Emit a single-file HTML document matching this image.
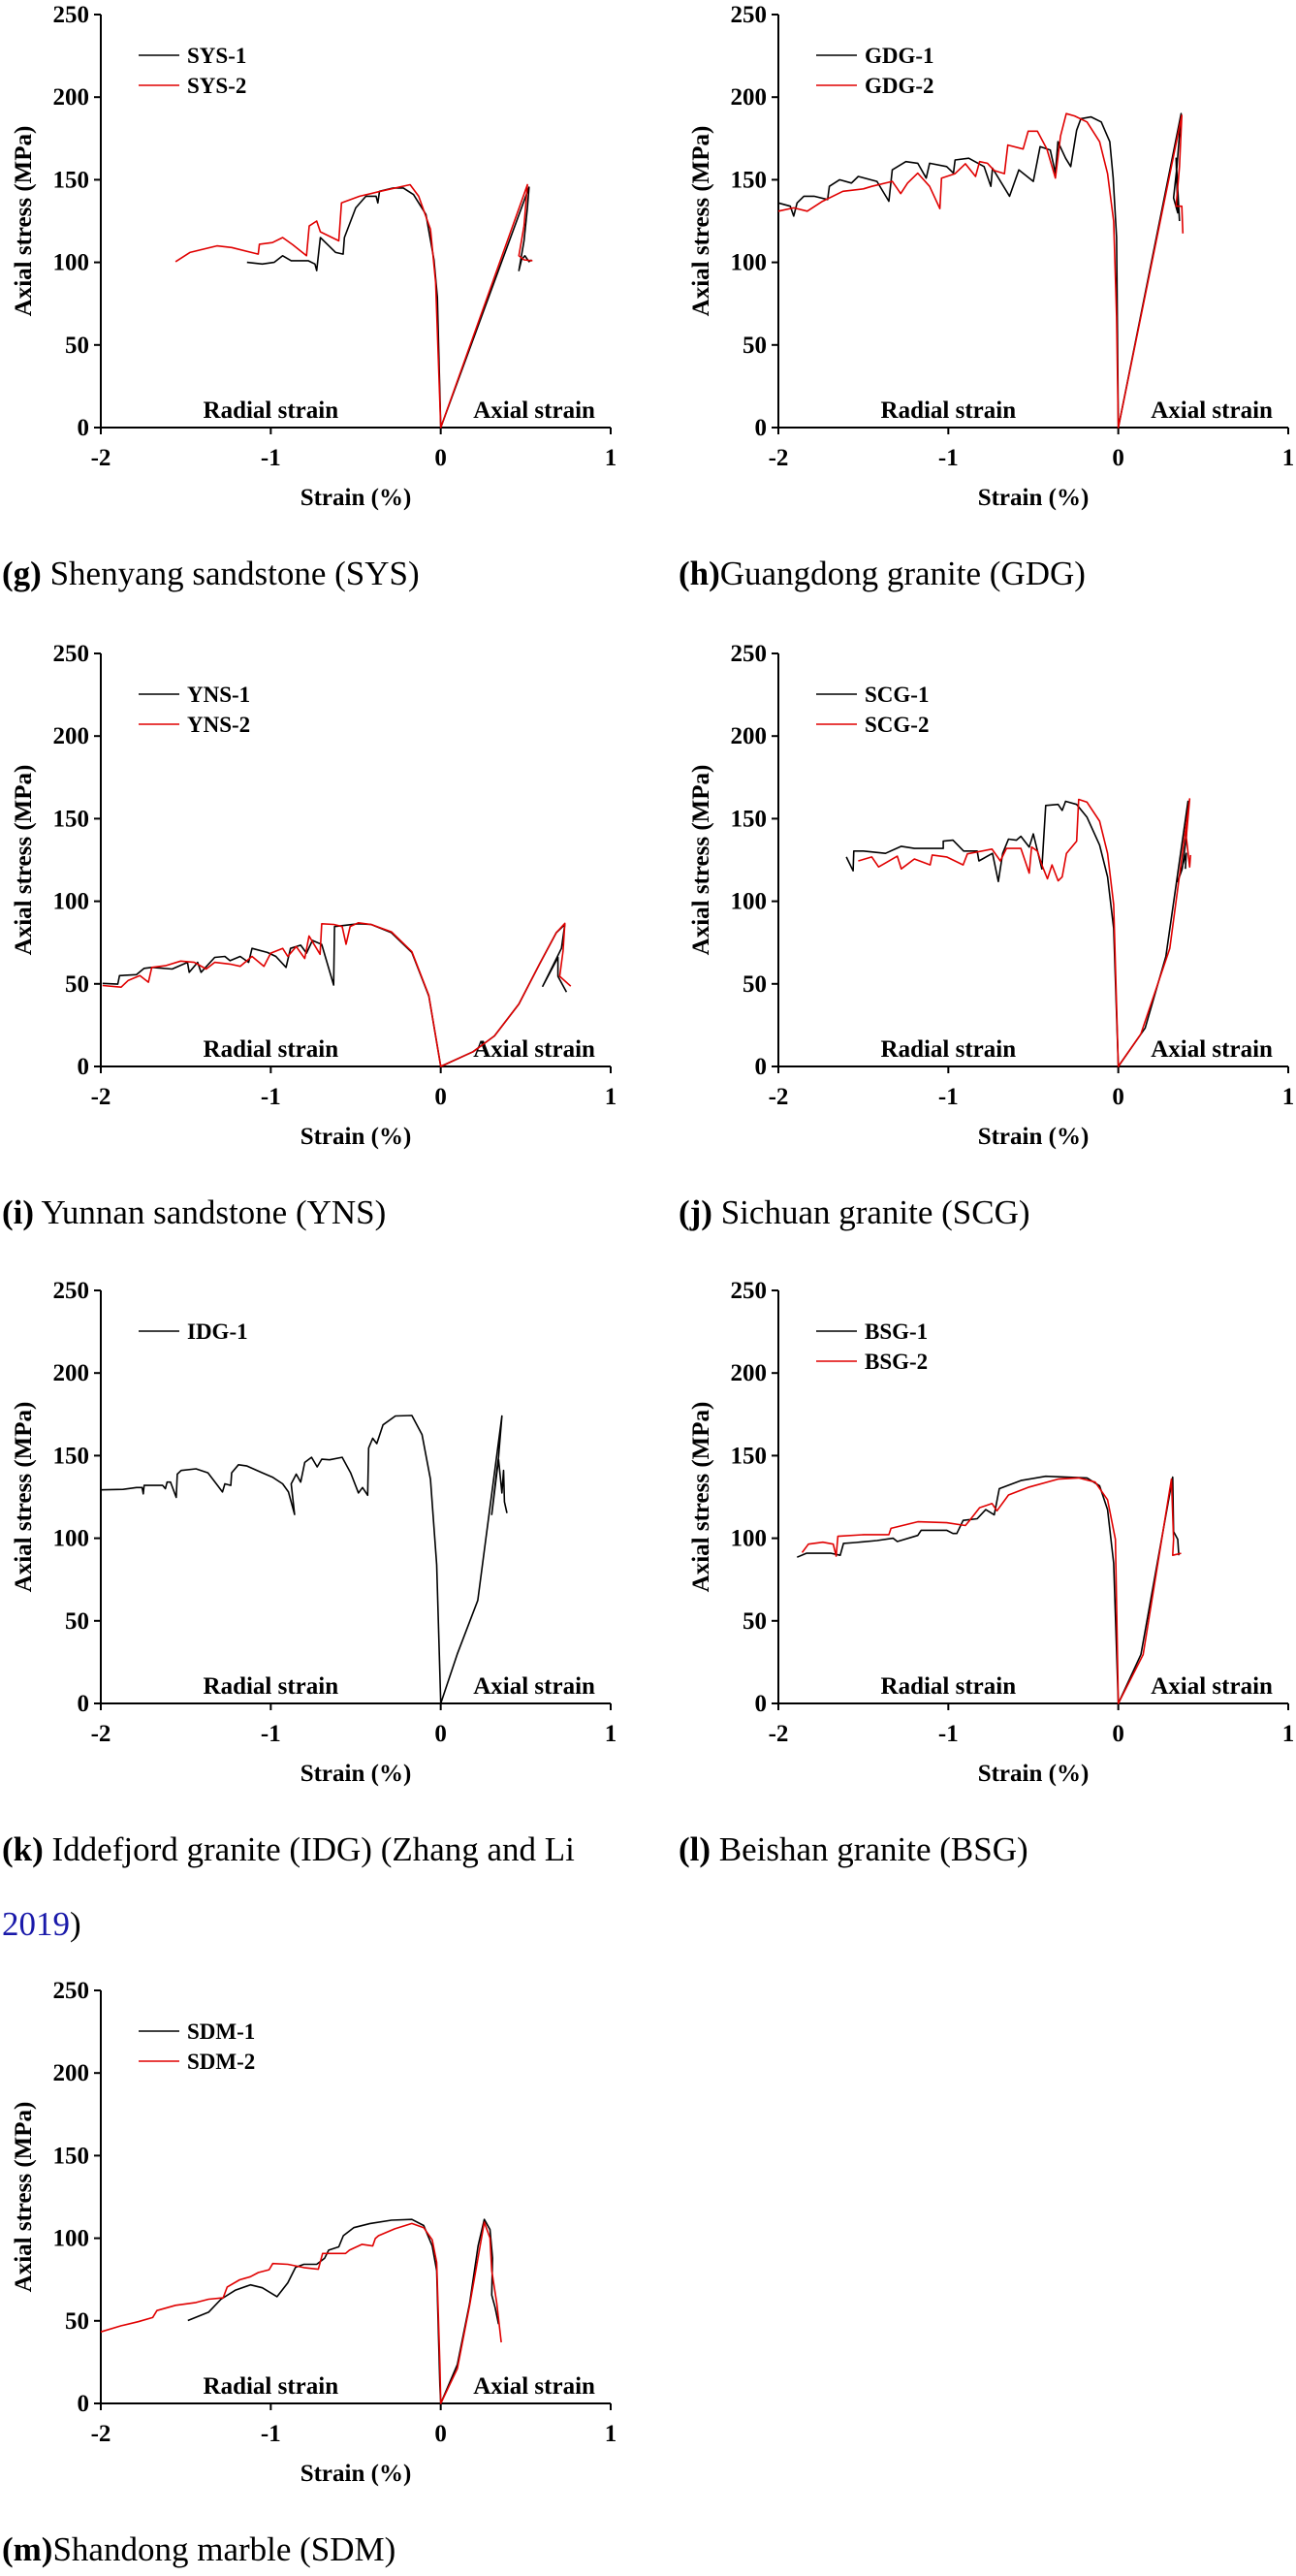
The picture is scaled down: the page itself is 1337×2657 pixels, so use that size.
<!DOCTYPE html>
<html><head><meta charset="utf-8">
<style>
html,body{margin:0;padding:0;background:#fff;}
svg{display:block;}
text{font-family:"Liberation Serif","Times New Roman",serif;}
</style></head>
<body>
<svg id="fig" width="1337" height="2657" viewBox="0 0 1337 2657" xmlns="http://www.w3.org/2000/svg"></svg>
<script>
// ---- data (strain %, axial stress MPa) ----
const xTicks = [-2, -1, 0, 1];
const yTicks = [0, 50, 100, 150, 200, 250];

const SYS1 = [[-1.14,100],[-1.05,99],[-0.98,100],[-0.93,104],[-0.88,101],[-0.78,101],[-0.74,99],[-0.73,95],[-0.72,104],[-0.708,115],[-0.618,106],[-0.574,105],[-0.567,115],[-0.5,133],[-0.44,140],[-0.38,140],[-0.37,136],[-0.36,143],[-0.28,145],[-0.22,145],[-0.16,141],[-0.087,129],[-0.04,101.5],[-0.02,79],[0,0],[0.52,145.5],[0.51,133],[0.49,113],[0.46,95],[0.475,101.5],[0.495,104],[0.52,100.4],[0.535,101.5]];
const SYS2 = [[-1.56,100.4],[-1.476,106],[-1.317,110],[-1.23,109],[-1.074,105],[-1.067,111],[-0.99,112],[-0.93,115],[-0.87,110.6],[-0.79,104],[-0.774,122],[-0.73,125],[-0.708,118.5],[-0.6,113],[-0.584,136],[-0.477,140],[-0.355,143],[-0.18,147],[-0.13,140],[-0.06,120],[-0.03,88],[0,0],[0.51,147],[0.49,122],[0.46,104],[0.49,101.5],[0.54,101]];

const GDG1 = [[-2,136],[-1.93,134],[-1.91,128],[-1.89,136],[-1.85,140],[-1.79,140],[-1.71,138],[-1.70,146],[-1.64,150],[-1.57,148],[-1.53,152],[-1.42,149],[-1.35,137],[-1.33,156],[-1.25,161],[-1.18,160],[-1.13,151],[-1.11,160],[-1.01,158],[-0.97,154],[-0.96,162],[-0.88,163],[-0.79,158],[-0.75,146],[-0.74,157],[-0.64,140],[-0.585,156],[-0.5,149],[-0.46,170],[-0.4,168],[-0.37,154],[-0.355,173],[-0.31,163],[-0.28,158],[-0.245,180],[-0.22,187],[-0.16,188],[-0.1,185],[-0.05,173],[-0.03,151],[-0.01,115],[0,0],[0.37,190],[0.345,158],[0.325,139],[0.35,130],[0.34,163],[0.36,125]];
const GDG2 = [[-2,131],[-1.91,133],[-1.83,131],[-1.74,137],[-1.62,143],[-1.5,144.5],[-1.45,146],[-1.33,149],[-1.28,141.6],[-1.24,148],[-1.18,154],[-1.11,146],[-1.05,132.5],[-1.04,151],[-0.96,153.7],[-0.9,159.7],[-0.84,152],[-0.816,161],[-0.77,160],[-0.73,155.6],[-0.67,153.7],[-0.65,171],[-0.56,168.6],[-0.53,179.4],[-0.476,179.4],[-0.42,168.6],[-0.37,151],[-0.34,176.5],[-0.306,190],[-0.257,188.6],[-0.184,185],[-0.11,173],[-0.063,153.7],[-0.027,124.8],[-0.01,67],[0,0],[0.374,189],[0.36,158],[0.34,134],[0.374,134],[0.38,117.5]];

const YNS1 = [[-1.99,50.3],[-1.9,49.8],[-1.89,55],[-1.79,55.6],[-1.745,59.4],[-1.7,60],[-1.58,59],[-1.49,63],[-1.48,57],[-1.43,63],[-1.41,57],[-1.33,66],[-1.27,66.6],[-1.24,64],[-1.18,66.6],[-1.13,63],[-1.11,71.5],[-1.02,69],[-0.97,66.6],[-0.91,60],[-0.884,71.5],[-0.824,73.4],[-0.79,68.6],[-0.755,76.3],[-0.7,73.9],[-0.63,49.3],[-0.625,84.7],[-0.485,86.4],[-0.41,86],[-0.29,81],[-0.17,69],[-0.07,42.6],[0,0],[0.19,8.9],[0.316,18.5],[0.46,37.8],[0.58,61.8],[0.68,81],[0.73,86],[0.71,71.5],[0.6,48.6],[0.69,66],[0.69,54.6],[0.74,45]];
const YNS2 = [[-1.99,49],[-1.88,48],[-1.84,52],[-1.77,55],[-1.72,51],[-1.7,60],[-1.62,61],[-1.53,63.8],[-1.45,63],[-1.38,59],[-1.33,63],[-1.24,62],[-1.18,60.6],[-1.11,66.6],[-1.04,60.6],[-1.0,68.6],[-0.93,71.5],[-0.9,66.6],[-0.85,72.6],[-0.8,65.4],[-0.775,79],[-0.71,67.9],[-0.7,86.4],[-0.63,86],[-0.58,84.7],[-0.557,74],[-0.533,84.7],[-0.485,87],[-0.41,86],[-0.29,81.5],[-0.17,69.5],[-0.07,43],[0,0],[0.19,8.9],[0.316,18.5],[0.46,37.8],[0.58,61.8],[0.68,81],[0.73,86.6],[0.72,70],[0.7,54.6],[0.765,48.6]];

const SCG1 = [[-1.6,126.8],[-1.56,118.4],[-1.556,130.4],[-1.5,130.4],[-1.37,129],[-1.277,133.3],[-1.2,132],[-1.03,132],[-1.03,136.4],[-0.973,137],[-0.91,130.4],[-0.83,130.4],[-0.82,124.4],[-0.74,129],[-0.706,112],[-0.68,129],[-0.646,137.6],[-0.6,137],[-0.573,139.3],[-0.524,132.8],[-0.5,140.8],[-0.45,119.6],[-0.427,158],[-0.354,158.6],[-0.33,155],[-0.31,160.5],[-0.245,158.6],[-0.184,150.9],[-0.11,134],[-0.063,114.8],[-0.027,83.5],[0,0],[0.158,23.3],[0.28,66.7],[0.41,160.5],[0.40,138.8],[0.376,119.6],[0.35,112],[0.4,129],[0.395,119.6]];
const SCG2 = [[-1.53,124.4],[-1.45,126.8],[-1.41,120.8],[-1.3,127.3],[-1.277,119.6],[-1.2,125.6],[-1.107,122],[-1.095,128],[-1.01,126.8],[-0.913,122],[-0.888,128.7],[-0.743,131.6],[-0.694,124.4],[-0.658,132],[-0.573,132],[-0.524,117],[-0.51,132.8],[-0.476,130.4],[-0.45,122],[-0.417,113.6],[-0.39,122],[-0.354,112.4],[-0.33,114.8],[-0.305,129],[-0.245,136.4],[-0.233,161.7],[-0.184,160],[-0.11,148.5],[-0.063,129],[-0.027,98],[0,0],[0.133,19.7],[0.303,71.5],[0.42,162],[0.4,138.8],[0.42,120.8],[0.425,128]];

const IDG1 = [[-2,129.3],[-1.87,129.6],[-1.79,130.7],[-1.757,130.7],[-1.75,126.9],[-1.745,132],[-1.636,132],[-1.62,130],[-1.61,134],[-1.59,134],[-1.556,124.7],[-1.55,138.8],[-1.527,141],[-1.44,142],[-1.37,139.6],[-1.31,131.5],[-1.284,128],[-1.27,132.9],[-1.235,132],[-1.23,139.6],[-1.19,144.5],[-1.14,143.7],[-1.05,139.6],[-0.99,137],[-0.93,132.9],[-0.896,128],[-0.86,114.4],[-0.88,132.9],[-0.85,138.8],[-0.824,134],[-0.8,145.9],[-0.76,149],[-0.727,143.2],[-0.7,147.8],[-0.654,147.5],[-0.58,149],[-0.53,139.6],[-0.484,127.4],[-0.46,130.7],[-0.43,126],[-0.424,154.6],[-0.4,160.5],[-0.376,157.3],[-0.34,168.6],[-0.267,174],[-0.17,174.3],[-0.11,162.7],[-0.06,135.6],[-0.024,84],[0,0],[0.097,29.8],[0.218,62.4],[0.36,174],[0.34,149],[0.33,141],[0.30,114.4],[0.34,147.8],[0.36,127.4],[0.37,141],[0.375,122],[0.39,115.2]];

const BSG1 = [[-1.89,88.5],[-1.835,90.9],[-1.69,90.9],[-1.636,89.7],[-1.617,96.9],[-1.544,97.4],[-1.42,98.6],[-1.325,100],[-1.3,98],[-1.18,101.7],[-1.16,104.8],[-1.01,104.8],[-0.973,102.9],[-0.95,102.9],[-0.913,110.8],[-0.83,111.8],[-0.78,117.3],[-0.73,114.2],[-0.7,130],[-0.573,134.9],[-0.427,137.5],[-0.184,136.5],[-0.11,131.7],[-0.063,117.3],[-0.027,84.9],[0,0],[0.133,29.6],[0.32,137],[0.325,104],[0.35,99.3],[0.356,89.7]];
const BSG2 = [[-1.86,91.3],[-1.823,96.4],[-1.738,97.6],[-1.677,96.4],[-1.66,89.2],[-1.65,101.2],[-1.495,102.2],[-1.35,102.2],[-1.337,106],[-1.18,110],[-1.01,109.4],[-0.9,107.7],[-0.87,111.3],[-0.816,118.5],[-0.743,121],[-0.714,116.6],[-0.646,126.2],[-0.524,131],[-0.354,135.8],[-0.233,136.5],[-0.136,134],[-0.063,123.3],[-0.017,99.3],[0,0],[0.146,29.6],[0.313,135.8],[0.325,99.3],[0.32,89.7],[0.37,90.9]];

const SDM1 = [[-1.488,50.2],[-1.366,55.2],[-1.293,63.1],[-1.207,68.6],[-1.12,71.8],[-1.05,70],[-0.963,64.6],[-0.9,73],[-0.854,82.4],[-0.805,84.2],[-0.73,84.2],[-0.683,87.9],[-0.659,92.8],[-0.6,94.8],[-0.573,101.5],[-0.512,106.4],[-0.415,108.9],[-0.29,110.9],[-0.17,111.4],[-0.1,107.7],[-0.05,95.3],[-0.024,80.4],[-0.005,11],[0,0],[0.098,23.5],[0.17,60.6],[0.22,95.3],[0.256,111.4],[0.29,105.2],[0.305,88],[0.3,65.6],[0.32,58],[0.34,48]];
const SDM2 = [[-2,43.3],[-1.88,47],[-1.78,49.5],[-1.695,52],[-1.67,56.2],[-1.56,59.4],[-1.44,61.1],[-1.366,63.1],[-1.28,63.9],[-1.256,70.5],[-1.183,74.8],[-1.12,76.7],[-1.073,79.2],[-1.01,80.9],[-0.988,84.7],[-0.9,84.2],[-0.805,82.2],[-0.72,81.2],[-0.695,90.8],[-0.56,90.8],[-0.537,92.8],[-0.463,96.3],[-0.4,95.3],[-0.385,99.8],[-0.366,101.5],[-0.27,105.7],[-0.17,108.9],[-0.1,106.4],[-0.05,99],[-0.024,85.4],[-0.005,23.5],[0,0],[0.098,21],[0.17,59.4],[0.256,109.7],[0.29,100.2],[0.3,80.4],[0.33,60.6],[0.356,37]];

const NS = "http://www.w3.org/2000/svg";
const svg = document.getElementById('fig');
function mk(tag, attrs, parent){
  const e = document.createElementNS(NS, tag);
  for (const k in attrs) e.setAttribute(k, attrs[k]);
  (parent||svg).appendChild(e);
  return e;
}
const W = 526, H = 426;

const panels = [
  {id:'g', ax:104, top:15, series:[['SYS-1',SYS1,'#000'],['SYS-2',SYS2,'#e00000']], cap:'Shenyang sandstone (SYS)', sp:' '},
  {id:'h', ax:803, top:15, series:[['GDG-1',GDG1,'#000'],['GDG-2',GDG2,'#e00000']], cap:'Guangdong granite (GDG)', sp:''},
  {id:'i', ax:104, top:674, series:[['YNS-1',YNS1,'#000'],['YNS-2',YNS2,'#e00000']], cap:'Yunnan sandstone (YNS)', sp:' '},
  {id:'j', ax:803, top:674, series:[['SCG-1',SCG1,'#000'],['SCG-2',SCG2,'#e00000']], cap:'Sichuan granite (SCG)', sp:' '},
  {id:'k', ax:104, top:1331, series:[['IDG-1',IDG1,'#000']], cap:'Iddefjord granite (IDG) (Zhang and Li', sp:' '},
  {id:'l', ax:803, top:1331, series:[['BSG-1',BSG1,'#000'],['BSG-2',BSG2,'#e00000']], cap:'Beishan granite (BSG)', sp:' '},
  {id:'m', ax:104, top:2053, series:[['SDM-1',SDM1,'#000'],['SDM-2',SDM2,'#e00000']], cap:'Shandong marble (SDM)', sp:''}
];

panels.forEach(p => {
  const g = mk('g', {});
  
  
  const y0 = p.top + H;
  const sx = v => p.ax + (v + 2) / 3 * W;
  const sy = v => y0 - v / 250 * H;

  // axes
  const yAxis = mk('line', {x1:p.ax, y1:p.top, x2:p.ax, y2:y0, stroke:'#000', 'stroke-width':2}, g);
  
  
  const xAxis = mk('line', {x1:p.ax, y1:y0, x2:sx(1), y2:y0, stroke:'#000', 'stroke-width':2}, g);
  
  

  yTicks.forEach(t => {
    mk('line', {x1:p.ax-7, y1:sy(t), x2:p.ax, y2:sy(t), stroke:'#000', 'stroke-width':2}, g);
    const tl = mk('text', {x:p.ax-12, y:sy(t)+8, 'text-anchor':'end', 'font-size':25, 'font-weight':'bold'}, g);
    tl.textContent = t;
    
    
  });
  xTicks.forEach(t => {
    mk('line', {x1:sx(t), y1:y0, x2:sx(t), y2:y0+7, stroke:'#000', 'stroke-width':2}, g);
    const tl = mk('text', {x:sx(t), y:y0+39, 'text-anchor':'middle', 'font-size':25, 'font-weight':'bold'}, g);
    tl.textContent = t;
    
    
  });

  const xt = mk('text', {x:p.ax+263, y:p.top+506, 'text-anchor':'middle', 'font-size':25, 'font-weight':'bold'}, g);
  xt.textContent = 'Strain (%)';
  
  
  const yt = mk('text', {transform:'translate(' + (p.ax-72) + ',' + (p.top+213) + ') rotate(-90)', 'text-anchor':'middle', 'font-size':25, 'font-weight':'bold'}, g);
  yt.textContent = 'Axial stress (MPa)';
  
  

  const r = mk('text', {x:sx(-1), y:y0-10, 'text-anchor':'middle', 'font-size':25, 'font-weight':'bold'}, g);
  r.textContent = 'Radial strain';
  
  
  const a = mk('text', {x:sx(0.55), y:y0-10, 'text-anchor':'middle', 'font-size':25, 'font-weight':'bold'}, g);
  a.textContent = 'Axial strain';
  
  

  p.series.forEach((s, i) => {
    const d = s[1].map((pt, k) => (k ? 'L' : 'M') + sx(pt[0]).toFixed(1) + ',' + sy(pt[1]).toFixed(1)).join(' ');
    const path = mk('path', {d:d, fill:'none', stroke:s[2], 'stroke-width':1.6, 'stroke-linejoin':'round'}, g);
    
    
    const ly = p.top + 42 + i * 31;
    const ll = mk('line', {x1:p.ax+39, y1:ly, x2:p.ax+81, y2:ly, stroke:s[2], 'stroke-width':1.6}, g);
    
    
    const lt = mk('text', {x:p.ax+89, y:ly+8, 'font-size':23, 'font-weight':'bold'}, g);
    lt.textContent = s[0];
    
    
  });

  const capX = p.ax < 500 ? 2 : 700;
  const cap = mk('text', {x:capX, y:p.top+588, 'font-size':35}, g);
  
  
  const b = mk('tspan', {'font-weight':'bold'}, cap);
  b.textContent = '(' + p.id + ')';
  const rest = mk('tspan', {}, cap);
  rest.textContent = p.sp + p.cap;
});

// second caption line for (k)
const c2 = mk('text', {x:2, y:1996, 'font-size':35});


const yr = mk('tspan', {fill:'#1a1aaa'}, c2);
yr.textContent = '2019';
const pc = mk('tspan', {}, c2);
pc.textContent = ')';
</script>
</body></html>
